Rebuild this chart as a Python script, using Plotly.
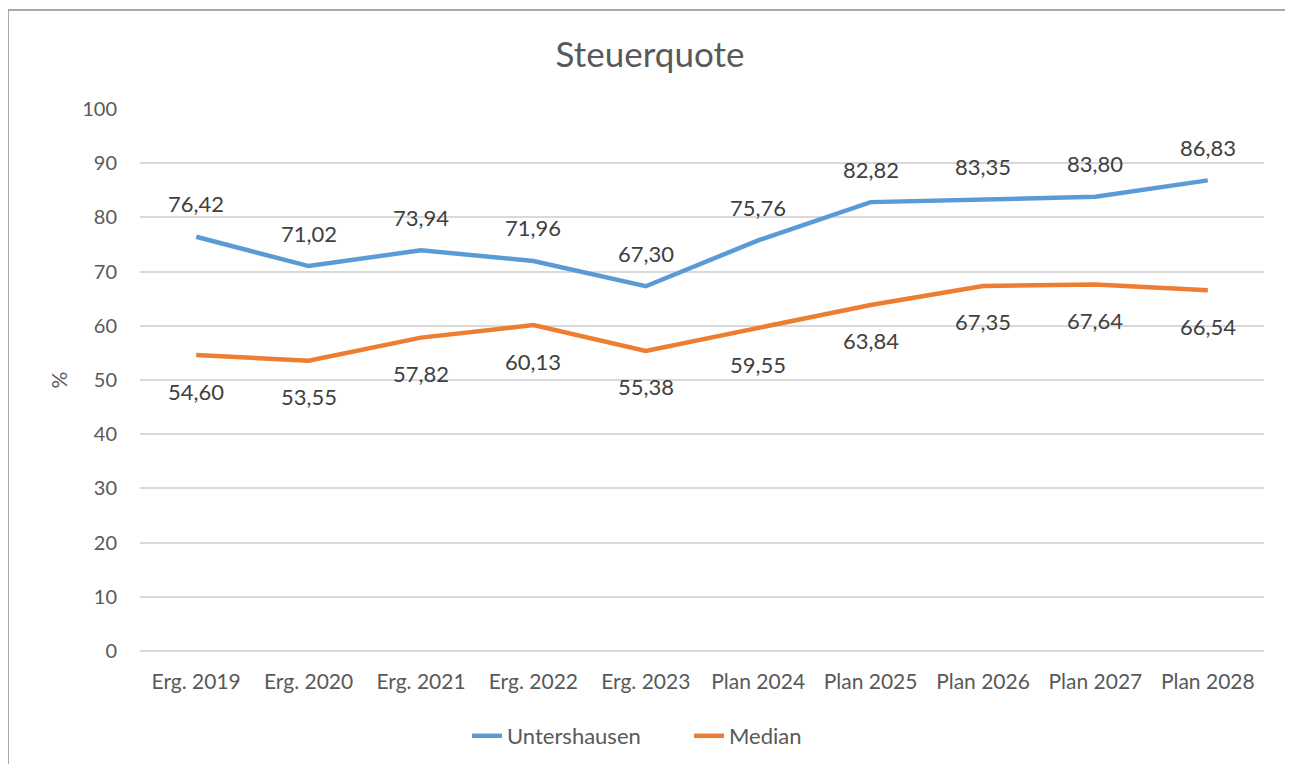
import plotly.graph_objects as go

categories = ["Erg. 2019", "Erg. 2020", "Erg. 2021", "Erg. 2022", "Erg. 2023",
              "Plan 2024", "Plan 2025", "Plan 2026", "Plan 2027", "Plan 2028"]
untershausen = [76.42, 71.02, 73.94, 71.96, 67.30, 75.76, 82.82, 83.35, 83.80, 86.83]
median = [54.60, 53.55, 57.82, 60.13, 55.38, 59.55, 63.84, 67.35, 67.64, 66.54]

BLUE = "#5B9BD5"
ORANGE = "#ED7D31"
TEXT = "#595959"
FONT = "Lato"


def de(v):
    return f"{v:.2f}".replace(".", ",")


fig = go.Figure()
fig.add_trace(go.Scatter(x=categories, y=untershausen, mode="lines", name="Untershausen",
                         line=dict(color=BLUE, width=4.5)))
fig.add_trace(go.Scatter(x=categories, y=median, mode="lines", name="Median",
                         line=dict(color=ORANGE, width=4.5)))

# data labels: above for Untershausen, below for Median
for c, v in zip(categories, untershausen):
    fig.add_annotation(x=c, y=v, text=de(v), showarrow=False, yshift=33,
                       font=dict(size=22, color="#404040", family=FONT))
for c, v in zip(categories, median):
    fig.add_annotation(x=c, y=v, text=de(v), showarrow=False, yshift=-36,
                       font=dict(size=22, color="#404040", family=FONT))

# outer frame (page is offset by 8px body margin)
W, H = 1293, 764
L, R, T, B = 132, 37, 101, 121
pw, ph = W - L - R, H - T - B
fig.add_shape(type="rect", xref="paper", yref="paper",
              x0=(0 - L) / pw, x1=(1284 - L) / pw,
              y0=(H - B - 800) / ph, y1=(H - B - 2) / ph,
              line=dict(color="#8C8C8C", width=1.5))

fig.update_layout(
    width=W, height=H,
    margin=dict(l=L, r=R, t=T, b=B, autoexpand=False),
    paper_bgcolor="white", plot_bgcolor="white",
    font=dict(family=FONT, color=TEXT, size=20),
    title=dict(text="Steuerquote", x=642 / W, xref="container", xanchor="center",
               y=1 - 47 / H, yanchor="middle",
               font=dict(size=35, color=TEXT, family=FONT)),
    showlegend=True,
    legend=dict(orientation="h", x=(681 - L) / pw, xanchor="center",
                y=-(728 - (H - B)) / ph, yanchor="middle",
                entrywidth=177, entrywidthmode="pixels",
                font=dict(size=22, color=TEXT, family=FONT)),
)
fig.update_xaxes(type="category", range=[-0.5, 9.5], showgrid=False, showline=False,
                 ticks="", ticklabelstandoff=16, tickangle=0,
                 tickfont=dict(size=21, color=TEXT))
fig.update_yaxes(range=[0, 100], dtick=10, showgrid=True, gridcolor="#D9D9D9", gridwidth=1.5,
                 zeroline=True, zerolinecolor="#D9D9D9", zerolinewidth=1.5,
                 showline=False, ticks="", ticklabelstandoff=22,
                 tickfont=dict(size=20, color=TEXT),
                 title=dict(text="%", font=dict(size=21, color=TEXT), standoff=8))

fig.write_html("out.html")
